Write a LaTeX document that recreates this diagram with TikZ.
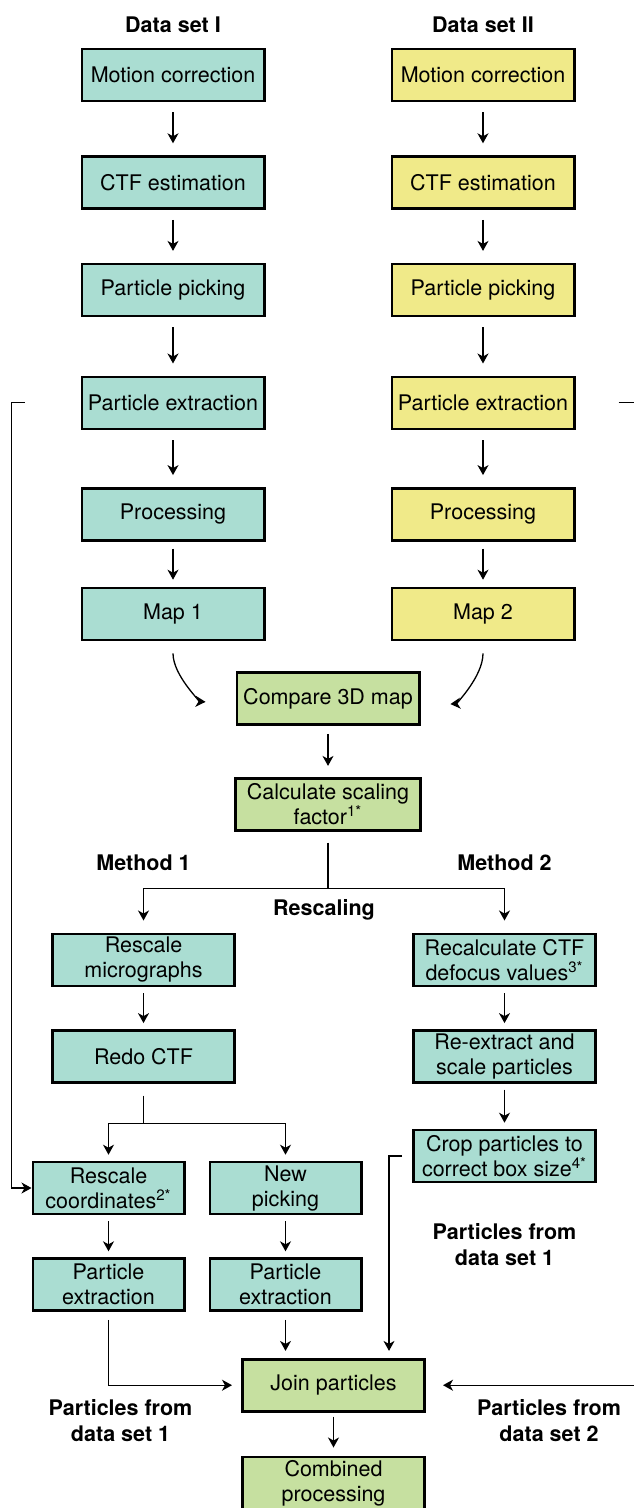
\documentclass[tikz,border=0pt]{standalone}
\usepackage{fontspec}
\setmainfont{TeX Gyre Heros}
\usetikzlibrary{arrows.meta,positioning,calc}
\definecolor{tealfill}{RGB}{170,221,210}
\definecolor{yellowfill}{RGB}{240,234,137}
\definecolor{greenfill}{RGB}{198,224,160}
\tikzset{
	flowbox/.style={rectangle, draw=black, line width=1.3pt, minimum width=91.2pt, minimum height=26pt,
		align=center, inner sep=1pt, font=\fontsize{10.75}{12.5}\selectfont},
	tealbox/.style={flowbox, fill=tealfill},
	yellowbox/.style={flowbox, fill=yellowfill},
	greenbox/.style={flowbox, fill=greenfill},
	smallbox/.style={tealbox, minimum width=75.7pt},
	headtxt/.style={font=\fontsize{10.75}{13}\selectfont\bfseries, align=center, inner sep=0pt},
	flowline/.style={line width=0.65pt},
	flowarr/.style={flowline, -{Stealth[length=5pt, width=5.5pt, inset=1.5pt]}, shorten <=5pt, shorten >=6pt},
	tightarr/.style={flowarr, shorten <=3pt, shorten >=3pt}
}

\begin{document}
\begin{tikzpicture}
			\useasboundingbox (0,0) rectangle (316.5pt,-754pt);
			% data set I
			\node[tealbox] (mc1) at (86.5pt,-37.5pt) {Motion correction};
			\node[tealbox, below=26.5pt of mc1] (ctf1) {CTF estimation};
			\node[tealbox, below=26.5pt of ctf1] (pick1) {Particle picking};
			\node[tealbox, below=29pt of pick1] (ext1) {Particle extraction};
			\node[tealbox, below=28.5pt of ext1] (proc1) {Processing};
			\node[tealbox, below=22.5pt of proc1] (map1) {Map 1};
			% data set II
			\node[yellowbox, right=62.5pt of mc1] (mc2) {Motion correction};
			\node[yellowbox, right=62.5pt of ctf1] (ctf2) {CTF estimation};
			\node[yellowbox, right=62.5pt of pick1] (pick2) {Particle picking};
			\node[yellowbox, right=62.5pt of ext1] (ext2) {Particle extraction};
			\node[yellowbox, right=62.5pt of proc1] (proc2) {Processing};
			\node[yellowbox, right=62.5pt of map1] (map2) {Map 2};
			\node[headtxt, above=7.5pt of mc1] (ds1) {Data set I};
			\node[headtxt, above=7.5pt of mc2] (ds2) {Data set II};
			% comparison
			\coordinate (mapmid) at ($(map1.south)!0.5!(map2.south)$);
			\node[greenbox, below=15pt of mapmid] (cmp) {Compare 3D map};
			\node[greenbox, minimum width=92.7pt, below=25.5pt of cmp] (scf) {Calculate scaling\\factor\textsuperscript{1*}};
			% rescaling
			\node[tealbox, below=50.5pt of scf, xshift=-92.25pt] (rsm) {Rescale\\micrographs};
			\node[tealbox, below=50.5pt of scf, xshift=88.25pt] (rcc) {Recalculate CTF\\defocus values\textsuperscript{3*}};
			\node[headtxt, above=30.5pt of rsm] (m1) {Method 1};
			\node[headtxt, above=30.5pt of rcc] (m2) {Method 2};
			\node[headtxt, below=34pt of scf, xshift=-2pt] (rescl) {Rescaling};
			\node[tealbox, below=21pt of rsm] (redo) {Redo CTF};
			\node[tealbox, below=21pt of rcc] (reex) {Re-extract and\\scale particles};
			\node[tealbox, below=22.5pt of reex] (crop) {Crop particles to\\correct box size\textsuperscript{4*}};
			\node[smallbox, below=38.5pt of redo, xshift=-17.5pt] (rsc) {Rescale\\coordinates\textsuperscript{2*}};
			\node[smallbox, right=11.5pt of rsc] (npk) {New\\picking};
			\node[smallbox, below=21pt of rsc] (pex1) {Particle\\extraction};
			\node[smallbox, below=21pt of npk] (pex2) {Particle\\extraction};
			% joining
			\node[greenbox, below=23pt of pex2, xshift=24pt] (join) {Join particles};
			\node[greenbox, below=21.5pt of join] (comb) {Combined\\processing};
			\node[headtxt, below=20pt of crop] (pf1a) {Particles from\\data set 1};
			\node[headtxt, below=43.5pt of pex1, xshift=6pt] (pf1b) {Particles from\\data set 1};
			\node[headtxt, right=142pt of pf1b] (pf2) {Particles from\\data set 2};
			% arrows
			\foreach \a/\b in {mc1/ctf1, ctf1/pick1, pick1/ext1, ext1/proc1, mc2/ctf2, ctf2/pick2, pick2/ext2, ext2/proc2}
				\draw[flowarr] (\a) -- (\b);
			\draw[flowarr, shorten <=3.5pt, shorten >=3.5pt] (proc1) -- (map1);
			\draw[flowarr, shorten <=3.5pt, shorten >=3.5pt] (proc2) -- (map2);
			\draw[flowarr, shorten <=6pt, shorten >=15pt] (map1.south) to[out=-90, in=177] (cmp.183);
			\draw[flowarr, shorten <=6pt, shorten >=15pt] (map2.south) to[out=-90, in=5] (cmp.-5);
			\draw[flowarr, shorten <=4pt, shorten >=5.5pt] (cmp) -- (scf);
			\draw[flowline, shorten <=5.5pt] (scf.south) -- ++(0,-28.5pt) coordinate (scfbr);
			\draw[flowarr, shorten <=0pt] (scfbr) -| (rsm.north);
			\draw[flowarr, shorten <=0pt] (scfbr) -| (rcc.north);
			\foreach \a/\b in {rsm/redo, rcc/reex, reex/crop, rsc/pex1, npk/pex2}
				\draw[tightarr] (\a) -- (\b);
			\draw[flowline, shorten <=6pt] (redo.south) -- ++(0,-20pt) coordinate (redobr);
			\draw[tightarr, shorten <=0pt] (redobr) -| (rsc.north);
			\draw[tightarr, shorten <=0pt] (redobr) -| (npk.north);
			\draw[flowarr, shorten <=4pt, shorten >=3.5pt] (pex2.south) -- (pex2.south |- join.north);
			\draw[flowarr, shorten <=4pt, shorten >=4.5pt] (pex1.south) |- (join.west);
			\draw[flowarr, shorten <=2pt, shorten >=4pt] (join) -- (comb);
			% particles of the other data set
			\coordinate[left=28pt of ext1.west] (fbin);
			\draw[flowarr, shorten <=0pt, shorten >=0pt] (fbin) -- ++(-6.5pt,0) |- (rsc.west);
			\coordinate[right=21.5pt of ext2.east] (fbout);
			\draw[flowarr, shorten <=0pt, shorten >=8.5pt] (fbout) -- ++(8.5pt,0) |- (join.east);
			\coordinate[left=5pt of crop.west] (cropout);
			\draw[flowarr, shorten <=0pt, shorten >=3.5pt] (cropout) -- ++(-6.5pt,0) coordinate (cropdn) -- (cropdn |- join.north);
		\end{tikzpicture}
\end{document}
